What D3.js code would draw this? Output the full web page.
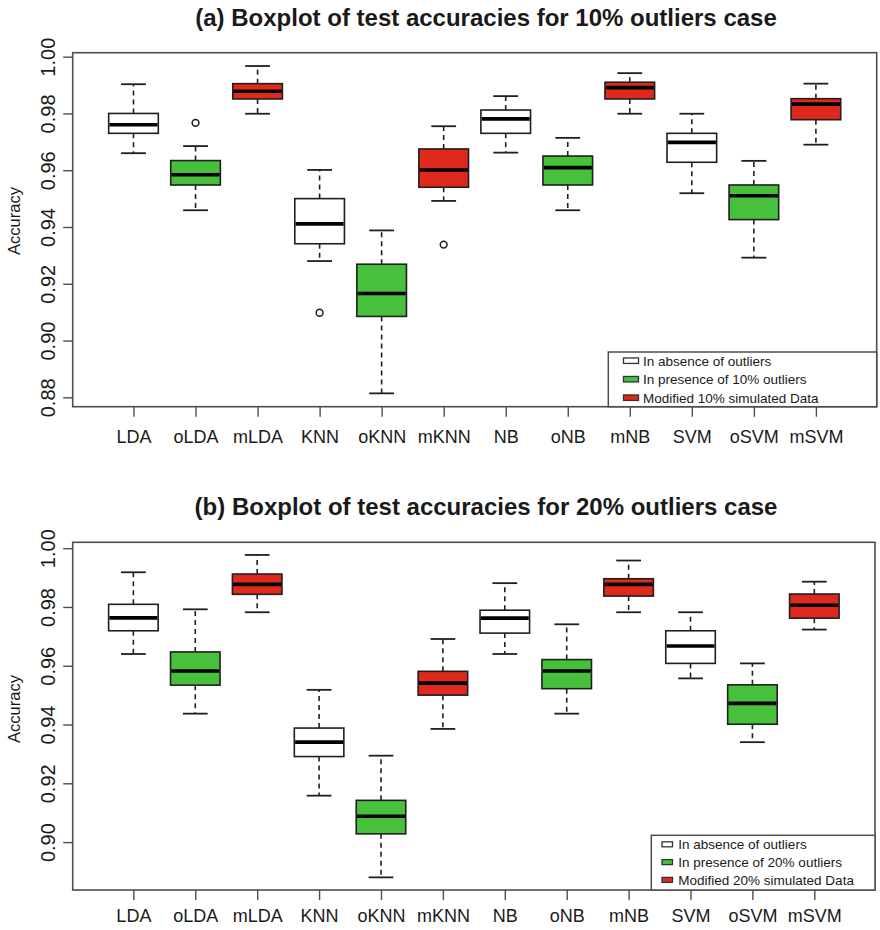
<!DOCTYPE html>
<html>
<head>
<meta charset="utf-8">
<script src="https://cdn.jsdelivr.net/npm/d3@7"></script>
<style>
  body { margin: 0; background: #fff; }
  text { font-family: "Liberation Sans", Arial, Helvetica, sans-serif; fill: #1a1a1a; }
</style>
</head>
<body>
<svg id="chart" width="880" height="930"></svg>
<script>
// Classifiers, in plotting order; every third one belongs to the same group
const categories = ["LDA", "oLDA", "mLDA", "KNN", "oKNN", "mKNN", "NB", "oNB", "mNB", "SVM", "oSVM", "mSVM"];
const groupColors = ["#ffffff", "#47c13b", "#e0291d"];

// (a) 10% outliers: five-number summaries per classifier
const whiskerLowA  = [0.9660, 0.9459, 0.9799, 0.9280, 0.8814, 0.9492, 0.9662, 0.9459, 0.9799, 0.9519, 0.9292, 0.9690];
const q1A          = [0.9730, 0.9548, 0.9851, 0.9341, 0.9085, 0.9540, 0.9730, 0.9548, 0.9851, 0.9628, 0.9426, 0.9778];
const medianA      = [0.9760, 0.9584, 0.9878, 0.9411, 0.9166, 0.9601, 0.9781, 0.9609, 0.9891, 0.9698, 0.9510, 0.9833];
const q3A          = [0.9800, 0.9634, 0.9905, 0.9500, 0.9269, 0.9675, 0.9812, 0.9650, 0.9910, 0.9730, 0.9548, 0.9852];
const whiskerHighA = [0.9903, 0.9685, 0.9967, 0.9601, 0.9388, 0.9755, 0.9861, 0.9714, 0.9942, 0.9799, 0.9633, 0.9905];
const outlierCatsA   = ["oLDA", "KNN", "mKNN"];
const outlierValuesA = [0.9767, 0.9098, 0.9338];
const ticksA  = [0.88, 0.90, 0.92, 0.94, 0.96, 0.98, 1.00];
const legendA = ["In absence of outliers", "In presence of 10% outliers", "Modified 10% simulated Data"];
const titleA  = "(a) Boxplot of test accuracies for 10% outliers case";

// (b) 20% outliers
const whiskerLowB  = [0.9640, 0.9437, 0.9782, 0.9158, 0.8880, 0.9385, 0.9640, 0.9437, 0.9782, 0.9557, 0.9340, 0.9723];
const q1B          = [0.9719, 0.9534, 0.9843, 0.9291, 0.9028, 0.9500, 0.9711, 0.9522, 0.9837, 0.9608, 0.9401, 0.9762];
const medianB      = [0.9763, 0.9582, 0.9877, 0.9340, 0.9088, 0.9541, 0.9762, 0.9582, 0.9877, 0.9667, 0.9472, 0.9806];
const q3B          = [0.9809, 0.9647, 0.9912, 0.9388, 0.9142, 0.9581, 0.9789, 0.9621, 0.9896, 0.9719, 0.9535, 0.9844];
const whiskerHighB = [0.9918, 0.9792, 0.9977, 0.9518, 0.9294, 0.9691, 0.9881, 0.9741, 0.9958, 0.9782, 0.9608, 0.9886];
const outlierCatsB   = [];
const outlierValuesB = [];
const ticksB  = [0.90, 0.92, 0.94, 0.96, 0.98, 1.00];
const legendB = ["In absence of outliers", "In presence of 20% outliers", "Modified 20% simulated Data"];
const titleB  = "(b) Boxplot of test accuracies for 20% outliers case";

const svg = d3.select("#chart");
const frameColor = "#4d4d4d";
const boxStroke = "#1f1f1f";

function drawPanel(p) {
  const g = svg.append("g");
  const x = d3.scaleLinear().domain([0.02, 12.98]).range([p.left, p.right]);
  const y = d3.scaleLinear().domain(p.yDomain).range([p.bottom, p.top]);
  const boxW = 0.8 * (x(2) - x(1));
  const capW = boxW / 2;

  const rows = categories.map((c, i) => ({
    cat: c, pos: i + 1, group: i % 3,
    lo: p.lo[i], q1: p.q1[i], med: p.med[i], q3: p.q3[i], hi: p.hi[i]
  }));

  // title
  g.append("text")
    .attr("x", p.titleX).attr("y", p.titleY)
    .attr("text-anchor", "middle")
    .style("font-size", "24px").style("font-weight", "bold")
    .text(p.title);

  // y axis
  const yAxis = d3.axisLeft(y).tickValues(p.ticks).tickSize(9.5).tickPadding(0)
    .tickFormat(d3.format(".2f"));
  const ya = g.append("g").attr("transform", `translate(${p.left},0)`).call(yAxis);
  ya.select(".domain").remove();
  ya.selectAll(".tick line").attr("stroke", frameColor).attr("stroke-width", 1.4);
  ya.selectAll(".tick text")
    .attr("x", null).attr("dy", null)
    .attr("transform", `translate(${55 - p.left},0) rotate(-90)`)
    .attr("text-anchor", "middle")
    .style("font-size", "20px")
    .style("font-family", "'Liberation Sans', Arial, sans-serif")
    .attr("fill", "#1a1a1a");

  // x axis
  const xAxis = d3.axisBottom(x).tickValues(d3.range(1, 13)).tickSize(10).tickPadding(0)
    .tickFormat(i => categories[i - 1]);
  const xa = g.append("g").attr("transform", `translate(0,${p.bottom})`).call(xAxis);
  xa.select(".domain").remove();
  xa.selectAll(".tick line").attr("stroke", frameColor).attr("stroke-width", 1.4);
  xa.selectAll(".tick text")
    .attr("y", p.xLabelBaseline - p.bottom).attr("dy", null)
    .style("font-size", "18px")
    .style("font-family", "'Liberation Sans', Arial, sans-serif")
    .attr("fill", "#1a1a1a");

  // y axis title
  g.append("text")
    .attr("transform", `translate(20,${p.yTitleY}) rotate(-90)`)
    .attr("text-anchor", "middle")
    .style("font-size", "16.5px")
    .text("Accuracy");

  // whiskers (dashed) and staples
  const wh = g.append("g");
  rows.forEach(d => {
    const cx = x(d.pos);
    wh.append("line").attr("x1", cx).attr("x2", cx).attr("y1", y(d.q3)).attr("y2", y(d.hi))
      .attr("stroke", boxStroke).attr("stroke-width", 1.6).attr("stroke-dasharray", "5,4");
    wh.append("line").attr("x1", cx).attr("x2", cx).attr("y1", y(d.q1)).attr("y2", y(d.lo))
      .attr("stroke", boxStroke).attr("stroke-width", 1.6).attr("stroke-dasharray", "5,4");
    [d.lo, d.hi].forEach(v => {
      wh.append("line").attr("x1", cx - capW / 2).attr("x2", cx + capW / 2)
        .attr("y1", y(v)).attr("y2", y(v))
        .attr("stroke", boxStroke).attr("stroke-width", 1.8);
    });
  });

  // boxes
  g.append("g").selectAll("rect").data(rows).join("rect")
    .attr("x", d => x(d.pos) - boxW / 2)
    .attr("width", boxW)
    .attr("y", d => y(d.q3))
    .attr("height", d => y(d.q1) - y(d.q3))
    .attr("fill", d => groupColors[d.group])
    .attr("stroke", boxStroke).attr("stroke-width", 1.6);

  // medians
  g.append("g").selectAll("line").data(rows).join("line")
    .attr("x1", d => x(d.pos) - boxW / 2 + 0.8)
    .attr("x2", d => x(d.pos) + boxW / 2 - 0.8)
    .attr("y1", d => y(d.med)).attr("y2", d => y(d.med))
    .attr("stroke", "#000").attr("stroke-width", 3.6);

  // outliers
  const outs = p.outCats.map((c, i) => ({ pos: categories.indexOf(c) + 1, value: p.outVals[i] }));
  g.append("g").selectAll("circle").data(outs).join("circle")
    .attr("cx", d => x(d.pos)).attr("cy", d => y(d.value)).attr("r", 3.4)
    .attr("fill", "#fff").attr("stroke", boxStroke).attr("stroke-width", 1.5);

  // plot frame
  g.append("rect")
    .attr("x", p.left).attr("y", p.top)
    .attr("width", p.right - p.left).attr("height", p.bottom - p.top)
    .attr("fill", "none").attr("stroke", frameColor).attr("stroke-width", 1.6);

  // legend
  const L = p.legend;
  const lg = g.append("g");
  lg.append("rect")
    .attr("x", L.left).attr("y", L.top)
    .attr("width", p.right - L.left).attr("height", p.bottom - L.top)
    .attr("fill", "#fff").attr("stroke", frameColor).attr("stroke-width", 1.5);
  p.legendLabels.forEach((t, i) => {
    const cy = L.firstRow + i * L.rowGap;
    lg.append("rect")
      .attr("x", L.symX).attr("y", cy - L.symH / 2)
      .attr("width", L.symW).attr("height", L.symH)
      .attr("fill", groupColors[i]).attr("stroke", "#333").attr("stroke-width", 1.3);
    lg.append("text")
      .attr("x", L.textX).attr("y", cy + 4.8)
      .style("font-size", "13.5px")
      .text(t);
  });
}

drawPanel({
  title: titleA, titleX: 486, titleY: 26,
  left: 72.7, right: 876.7, top: 52.7, bottom: 406.7,
  yDomain: [0.8767, 1.0014], ticks: ticksA,
  xLabelBaseline: 443, yTitleY: 221,
  lo: whiskerLowA, q1: q1A, med: medianA, q3: q3A, hi: whiskerHighA,
  outCats: outlierCatsA, outVals: outlierValuesA,
  legendLabels: legendA,
  legend: { left: 608.3, top: 352, symX: 623.5, symW: 15, symH: 5.5, textX: 643, firstRow: 360.7, rowGap: 18.5 }
});

drawPanel({
  title: titleB, titleX: 486, titleY: 515,
  left: 72.7, right: 875, top: 542.3, bottom: 890,
  yDomain: [0.8837, 1.0020], ticks: ticksB,
  xLabelBaseline: 922, yTitleY: 709,
  lo: whiskerLowB, q1: q1B, med: medianB, q3: q3B, hi: whiskerHighB,
  outCats: outlierCatsB, outVals: outlierValuesB,
  legendLabels: legendB,
  legend: { left: 651.3, top: 835.3, symX: 662, symW: 10.5, symH: 5, textX: 678.3, firstRow: 844.3, rowGap: 17.8 }
});
</script>
</body>
</html>
